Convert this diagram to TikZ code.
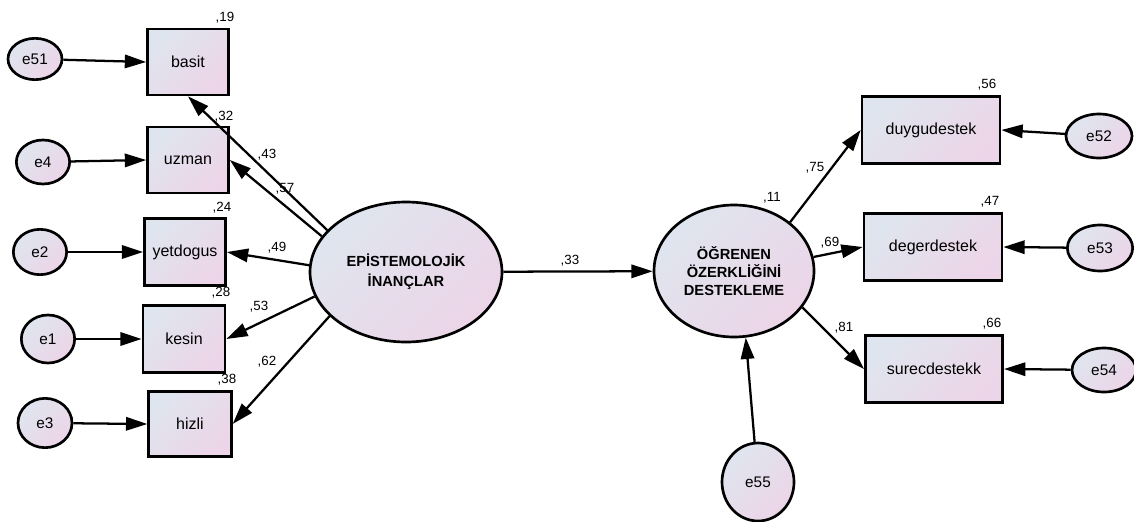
\documentclass[tikz,border=0pt]{standalone}
\usepackage{fontspec}
\setmainfont{Liberation Sans}
\usetikzlibrary{shapes.geometric,arrows.meta}
\definecolor{shadeA}{RGB}{223,229,238}
\definecolor{shadeB}{RGB}{236,213,232}
\begin{document}
\begin{tikzpicture}[x=0.75pt,y=-0.75pt,
  fillgrad/.style={draw=black,line width=2pt,top color=shadeA,bottom color=shadeB,shading angle=45},
  obs/.style={fillgrad,rectangle,inner sep=0pt,font=\fontsize{12}{14}\selectfont},
  latent/.style={fillgrad,ellipse,inner sep=0pt,align=center,font=\fontsize{11}{15}\selectfont\bfseries},
  err/.style={fillgrad,ellipse,inner sep=0pt,font=\fontsize{11.5}{13}\selectfont},
  path/.style={line width=1.7pt,-{Triangle[length=16pt,width=10pt]}},
  coef/.style={inner sep=0pt,font=\fontsize{10}{11}\selectfont}
]
\useasboundingbox[fill=white] (0,0) rectangle (1134,521);

% latent variables
\node[latent,minimum width=144pt,minimum height=105pt] (epi) at (406,272)
  {EPİSTEMOLOJİK\\İNANÇLAR};
\node[latent,minimum width=120pt,minimum height=99pt,
  font=\fontsize{11}{13.5}\selectfont\bfseries] (ozerk) at (734,271)
  {ÖĞRENEN\\ÖZERKLİĞİNİ\\DESTEKLEME};

% observed indicators, left
\node[obs,minimum width=60.75pt,minimum height=49.5pt] (basit) at (188,62) {basit};
\node[obs,minimum width=60.75pt,minimum height=49.5pt] (uzman) at (188,160) {uzman};
\node[obs,minimum width=60.75pt,minimum height=50pt] (yetdogus) at (185,252) {yetdogus};
\node[obs,minimum width=61.5pt,minimum height=50pt] (kesin) at (184,339) {kesin};
\node[obs,minimum width=62pt,minimum height=49pt] (hizli) at (190,424) {hizli};

% observed indicators, right
\node[obs,minimum width=103.5pt,minimum height=50pt] (duygu) at (931,130) {duygudestek};
\node[obs,minimum width=103.5pt,minimum height=50pt] (deger) at (933,247) {degerdestek};
\node[obs,minimum width=103pt,minimum height=50pt] (surec) at (934,369) {surecdestekk};

% error terms
\node[err,minimum width=40.5pt,minimum height=31pt] (e51) at (35,59) {e51};
\node[err,minimum width=40pt,minimum height=33pt] (e4) at (43,162) {e4};
\node[err,minimum width=40pt,minimum height=34pt] (e2) at (40,252) {e2};
\node[err,minimum width=40pt,minimum height=36pt] (e1) at (48,339) {e1};
\node[err,minimum width=40.5pt,minimum height=37pt] (e3) at (45,423) {e3};
\node[err,minimum width=49.5pt,minimum height=33pt] (e52) at (1099,136) {e52};
\node[err,minimum width=49pt,minimum height=34.5pt] (e53) at (1100,248) {e53};
\node[err,minimum width=48pt,minimum height=33pt] (e54) at (1104,370) {e54};
\node[err,minimum width=54pt,minimum height=58.5pt] (e55) at (758,482) {e55};

% loadings of the first factor
\draw[path] (epi.152) -- (basit.south);
\draw[path] (epi.157) -- (uzman.east);
\draw[path] (epi.176) -- (yetdogus.east);
\draw[path] (epi.195) -- (kesin.east);
\draw[path] (epi.210) -- (hizli.east);

% structural path and loadings of the second factor
\draw[path] (epi) -- (ozerk);
\draw[path] (ozerk.41) -- (duygu.west);
\draw[path] (ozerk.10) -- (deger.west);
\draw[path] (ozerk.332) -- (surec.west);

% error paths
\draw[path] (e51) -- (basit.west);
\draw[path] (e4) -- (uzman.west);
\draw[path] (e2) -- (yetdogus.west);
\draw[path] (e1) -- (kesin.west);
\draw[path] (e3) -- (hizli.west);
\draw[path] (e52) -- (duygu.east);
\draw[path] (e53) -- (deger.east);
\draw[path] (e54) -- (surec.east);
\draw[path] (e55) -- (ozerk.280);

% squared multiple correlations
\node[coef] (r19) at (225,18) {,19};
\node[coef] (r32) at (224,117) {,32};
\node[coef] (r24) at (222,208) {,24};
\node[coef] (r28) at (221,293) {,28};
\node[coef] (r38) at (227,380) {,38};
\node[coef] (r11) at (772,198) {,11};
\node[coef] (r56) at (987,85) {,56};
\node[coef] (r47) at (990,202) {,47};
\node[coef] (r66) at (992,324) {,66};

% standardized coefficients
\node[coef] (w43) at (267,155) {,43};
\node[coef] (w57) at (285,189) {,57};
\node[coef] (w49) at (277,248) {,49};
\node[coef] (w53) at (259,307) {,53};
\node[coef] (w62) at (267,362) {,62};
\node[coef] (w33) at (570,261) {,33};
\node[coef] (w75) at (815,168) {,75};
\node[coef] (w69) at (830,243) {,69};
\node[coef] (w81) at (844,328) {,81};
\end{tikzpicture}
\end{document}
